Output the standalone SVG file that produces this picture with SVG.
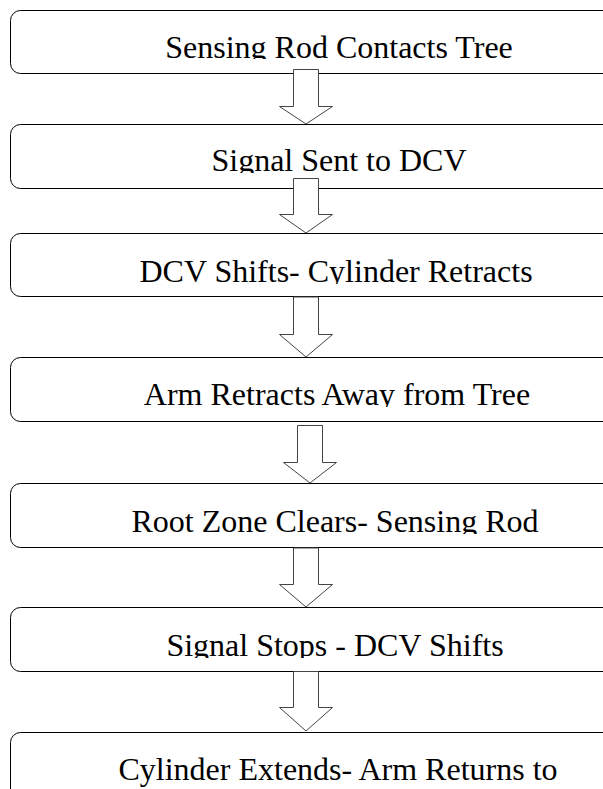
<svg xmlns="http://www.w3.org/2000/svg" width="603" height="789" viewBox="0 0 603 789">
<style>
.box{fill:#fff;stroke:#000;stroke-width:1}
.arr{fill:#fff;stroke:#444;stroke-width:1}
</style>
<defs>
<clipPath id="c1"><rect x="0" y="10" width="603" height="49"/></clipPath>
<clipPath id="c2"><rect x="0" y="124" width="603" height="49"/></clipPath>
<clipPath id="c3"><rect x="0" y="233" width="603" height="51"/></clipPath>
<clipPath id="c4"><rect x="0" y="357" width="603" height="50"/></clipPath>
<clipPath id="c5"><rect x="0" y="483" width="603" height="51"/></clipPath>
<clipPath id="c6"><rect x="0" y="607" width="603" height="51"/></clipPath>
</defs>
<rect width="603" height="789" fill="#fff"/>
<g font-family="Liberation Serif" font-size="32" text-anchor="middle" fill="#000">
<g id="n1"><rect class="box" x="10.5" y="10.5" width="640" height="63" rx="10"/><text x="339" y="58" clip-path="url(#c1)">Sensing Rod Contacts Tree</text></g>
<g id="n2"><rect class="box" x="10.5" y="124.5" width="640" height="64" rx="10"/><text x="339" y="171" clip-path="url(#c2)">Signal Sent to DCV</text></g>
<g id="n3"><rect class="box" x="10.5" y="233.5" width="640" height="63" rx="10"/><text x="336" y="282" clip-path="url(#c3)">DCV Shifts- Cylinder Retracts</text></g>
<g id="n4"><rect class="box" x="10.5" y="357.5" width="640" height="64" rx="10"/><text x="337" y="405" clip-path="url(#c4)">Arm Retracts Away from Tree</text></g>
<g id="n5"><rect class="box" x="10.5" y="483.5" width="640" height="64" rx="10"/><text x="335" y="532" clip-path="url(#c5)">Root Zone Clears- Sensing Rod</text></g>
<g id="n6"><rect class="box" x="10.5" y="607.5" width="640" height="64" rx="10"/><text x="335" y="656" clip-path="url(#c6)">Signal Stops - DCV Shifts</text></g>
<g id="n7"><rect class="box" x="10.5" y="732.5" width="640" height="80" rx="10"/><text x="338" y="780">Cylinder Extends- Arm Returns to</text></g>
</g>
<g id="connectors">
<polygon class="arr" points="293.5,69.5 318.5,69.5 318.5,106.5 332.5,106.5 306,124 279.5,106.5 293.5,106.5"/>
<polygon class="arr" points="293.5,178.5 318.5,178.5 318.5,214.5 332.5,214.5 306,233 279.5,214.5 293.5,214.5"/>
<polygon class="arr" points="293.5,297 318.5,297 318.5,334.5 332.5,334.5 306,357 279.5,334.5 293.5,334.5"/>
<polygon class="arr" points="297.5,425.5 322.5,425.5 322.5,462.5 336.5,462.5 310,483 283.5,462.5 297.5,462.5"/>
<polygon class="arr" points="293.5,548 318.5,548 318.5,584.5 332.5,584.5 306,607 279.5,584.5 293.5,584.5"/>
<polygon class="arr" points="293.5,671.5 318.5,671.5 318.5,707.5 332.5,707.5 306,731 279.5,707.5 293.5,707.5"/>
</g>
</svg>
